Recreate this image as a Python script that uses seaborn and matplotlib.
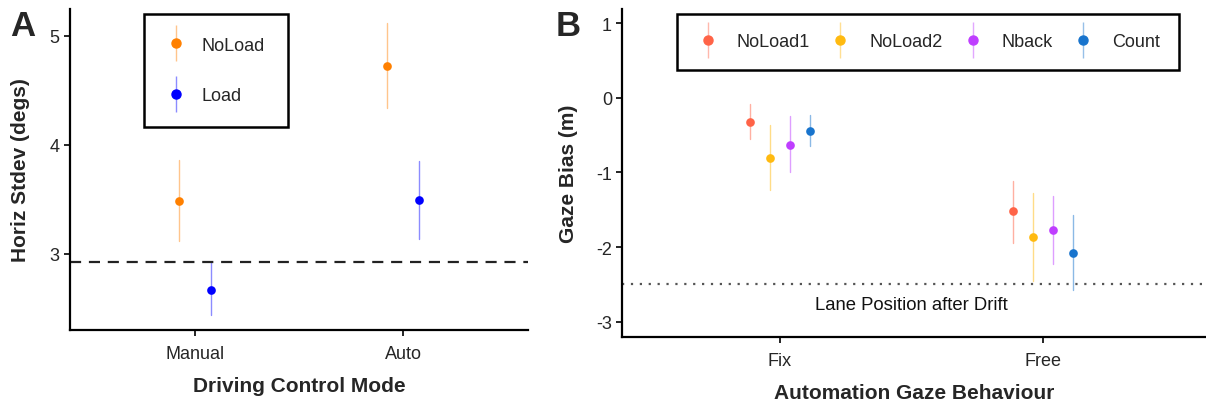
import pandas as pd
import matplotlib
matplotlib.use("Agg")
import matplotlib.pyplot as plt
from matplotlib.lines import Line2D
import seaborn as sns

sns.set_style("ticks")
plt.rcParams['font.family'] = ['Liberation Sans', 'DejaVu Sans']
plt.rcParams['axes.unicode_minus'] = False

# ===== DATA =====
# Panel A: horizontal gaze stdev by driving mode and load
a_modes = ['Manual', 'Auto']
a_conds = ['NoLoad', 'Load']
a_mean = {'NoLoad': [3.48, 4.72], 'Load': [2.67, 3.49]}
a_lo = {'NoLoad': [3.12, 4.34], 'Load': [2.44, 3.13]}
a_hi = {'NoLoad': [3.86, 5.12], 'Load': [2.92, 3.85]}
a_colors = ['#FF8000', '#0000FF']
a_ref = 2.92

# Panel B: gaze bias by automation gaze behaviour and task
b_gaze = ['Fix', 'Free']
b_conds = ['NoLoad1', 'NoLoad2', 'Nback', 'Count']
b_mean = {'NoLoad1': [-0.32, -1.52], 'NoLoad2': [-0.81, -1.86],
          'Nback': [-0.625, -1.77], 'Count': [-0.45, -2.08]}
b_lo = {'NoLoad1': [-0.545, -1.95], 'NoLoad2': [-1.24, -2.45],
        'Nback': [-0.99, -2.23], 'Count': [-0.65, -2.57]}
b_hi = {'NoLoad1': [-0.085, -1.11], 'NoLoad2': [-0.36, -1.27],
        'Nback': [-0.245, -1.32], 'Count': [-0.235, -1.57]}
b_colors = ['#FF6347', '#FFBA10', '#BF3EFF', '#1874CD']
b_ref = -2.5


def long_table(cats, conds, mean, lo, hi, xname):
    # three rows per group: median gives the point, min/max give the interval
    rows = []
    for c in conds:
        for i, cat in enumerate(cats):
            for v in (lo[c][i], mean[c][i], hi[c][i]):
                rows.append({xname: cat, 'cond': c, 'val': v})
    return pd.DataFrame(rows)


def legend_handles(conds, colors):
    hs = []
    for c, col in zip(conds, colors):
        bar = Line2D([], [], marker='|', markersize=26, markeredgewidth=1,
                     color=col, alpha=0.45, linestyle='None')
        dot = Line2D([], [], marker='o', markersize=6.5, color=col, linestyle='None')
        hs.append((bar, dot))
    return hs


def style_axis(ax):
    sns.despine(ax=ax)
    for s in ['left', 'bottom']:
        ax.spines[s].set_linewidth(1.6)
        ax.spines[s].set_color('black')
    ax.tick_params(axis='both', length=4, width=1.2, colors='black',
                   labelsize=13, labelcolor='#262626')
    ax.tick_params(axis='x', pad=7)


fig = plt.figure(figsize=(12.06, 4.02), dpi=100)
axA = fig.add_axes([0.058, 0.177, 0.380, 0.798])
axB = fig.add_axes([0.516, 0.16, 0.484, 0.815])

# ----- Panel A -----
dfA = long_table(a_modes, a_conds, a_mean, a_lo, a_hi, 'mode')
sns.pointplot(data=dfA, x='mode', y='val', hue='cond', order=a_modes,
              hue_order=a_conds, palette=a_colors, estimator='median',
              errorbar=lambda v: (v.min(), v.max()), dodge=0.155,
              linestyle='none', markers='o', markersize=4.2,
              err_kws={'linewidth': 1.0, 'alpha': 0.45}, ax=axA, legend=False)
axA.axhline(a_ref, color='#222222', linestyle=(0, (5, 3.5)), linewidth=1.6)
axA.set_xlim(-0.6, 1.6)
axA.set_ylim(2.30, 5.245)
axA.set_yticks([3, 4, 5])
axA.set_xlabel('Driving Control Mode', fontsize=15, fontweight='bold', labelpad=10)
axA.set_ylabel('Horiz Stdev (degs)', fontsize=15, fontweight='bold', labelpad=14)
style_axis(axA)
legA = axA.legend(legend_handles(a_conds, a_colors), a_conds,
                  loc='upper left', bbox_to_anchor=(0.162, 0.984),
                  fontsize=13, labelspacing=1.85, handlelength=1.0,
                  handletextpad=0.95, borderpad=1.25, borderaxespad=0,
                  fancybox=False, framealpha=1)
legA.get_frame().set_edgecolor('black')
legA.get_frame().set_linewidth(1.8)

# ----- Panel B -----
dfB = long_table(b_gaze, b_conds, b_mean, b_lo, b_hi, 'gaze')
sns.pointplot(data=dfB, x='gaze', y='val', hue='cond', order=b_gaze,
              hue_order=b_conds, palette=b_colors, estimator='median',
              errorbar=lambda v: (v.min(), v.max()), dodge=0.225,
              linestyle='none', markers='o', markersize=4.2,
              err_kws={'linewidth': 1.0, 'alpha': 0.5}, ax=axB, legend=False)
axB.axhline(b_ref, color='#555555', linestyle=(0, (1, 3)), linewidth=1.6)
axB.text(0.5, -2.77, 'Lane Position after Drift', ha='center', va='center',
         fontsize=13.3, color='#111111')
axB.set_xlim(-0.6, 1.62)
axB.set_ylim(-3.2, 1.19)
axB.set_yticks([-3, -2, -1, 0, 1])
axB.set_xlabel('Automation Gaze Behaviour', fontsize=15, fontweight='bold', labelpad=10)
axB.set_ylabel('Gaze Bias (m)', fontsize=15, fontweight='bold', labelpad=13)
style_axis(axB)
legB = axB.legend(legend_handles(b_conds, b_colors), b_conds,
                  loc='upper left', bbox_to_anchor=(0.093, 0.985), ncol=4,
                  fontsize=13, handlelength=1.28, handletextpad=0.97,
                  columnspacing=1.03, borderpad=1.08, borderaxespad=0,
                  fancybox=False, framealpha=1)
legB.get_frame().set_edgecolor('black')
legB.get_frame().set_linewidth(1.8)

fig.text(0.008, 0.975, 'A', fontsize=25, fontweight='bold', va='top')
fig.text(0.461, 0.975, 'B', fontsize=25, fontweight='bold', va='top')

fig.savefig('out.png', dpi=100)
